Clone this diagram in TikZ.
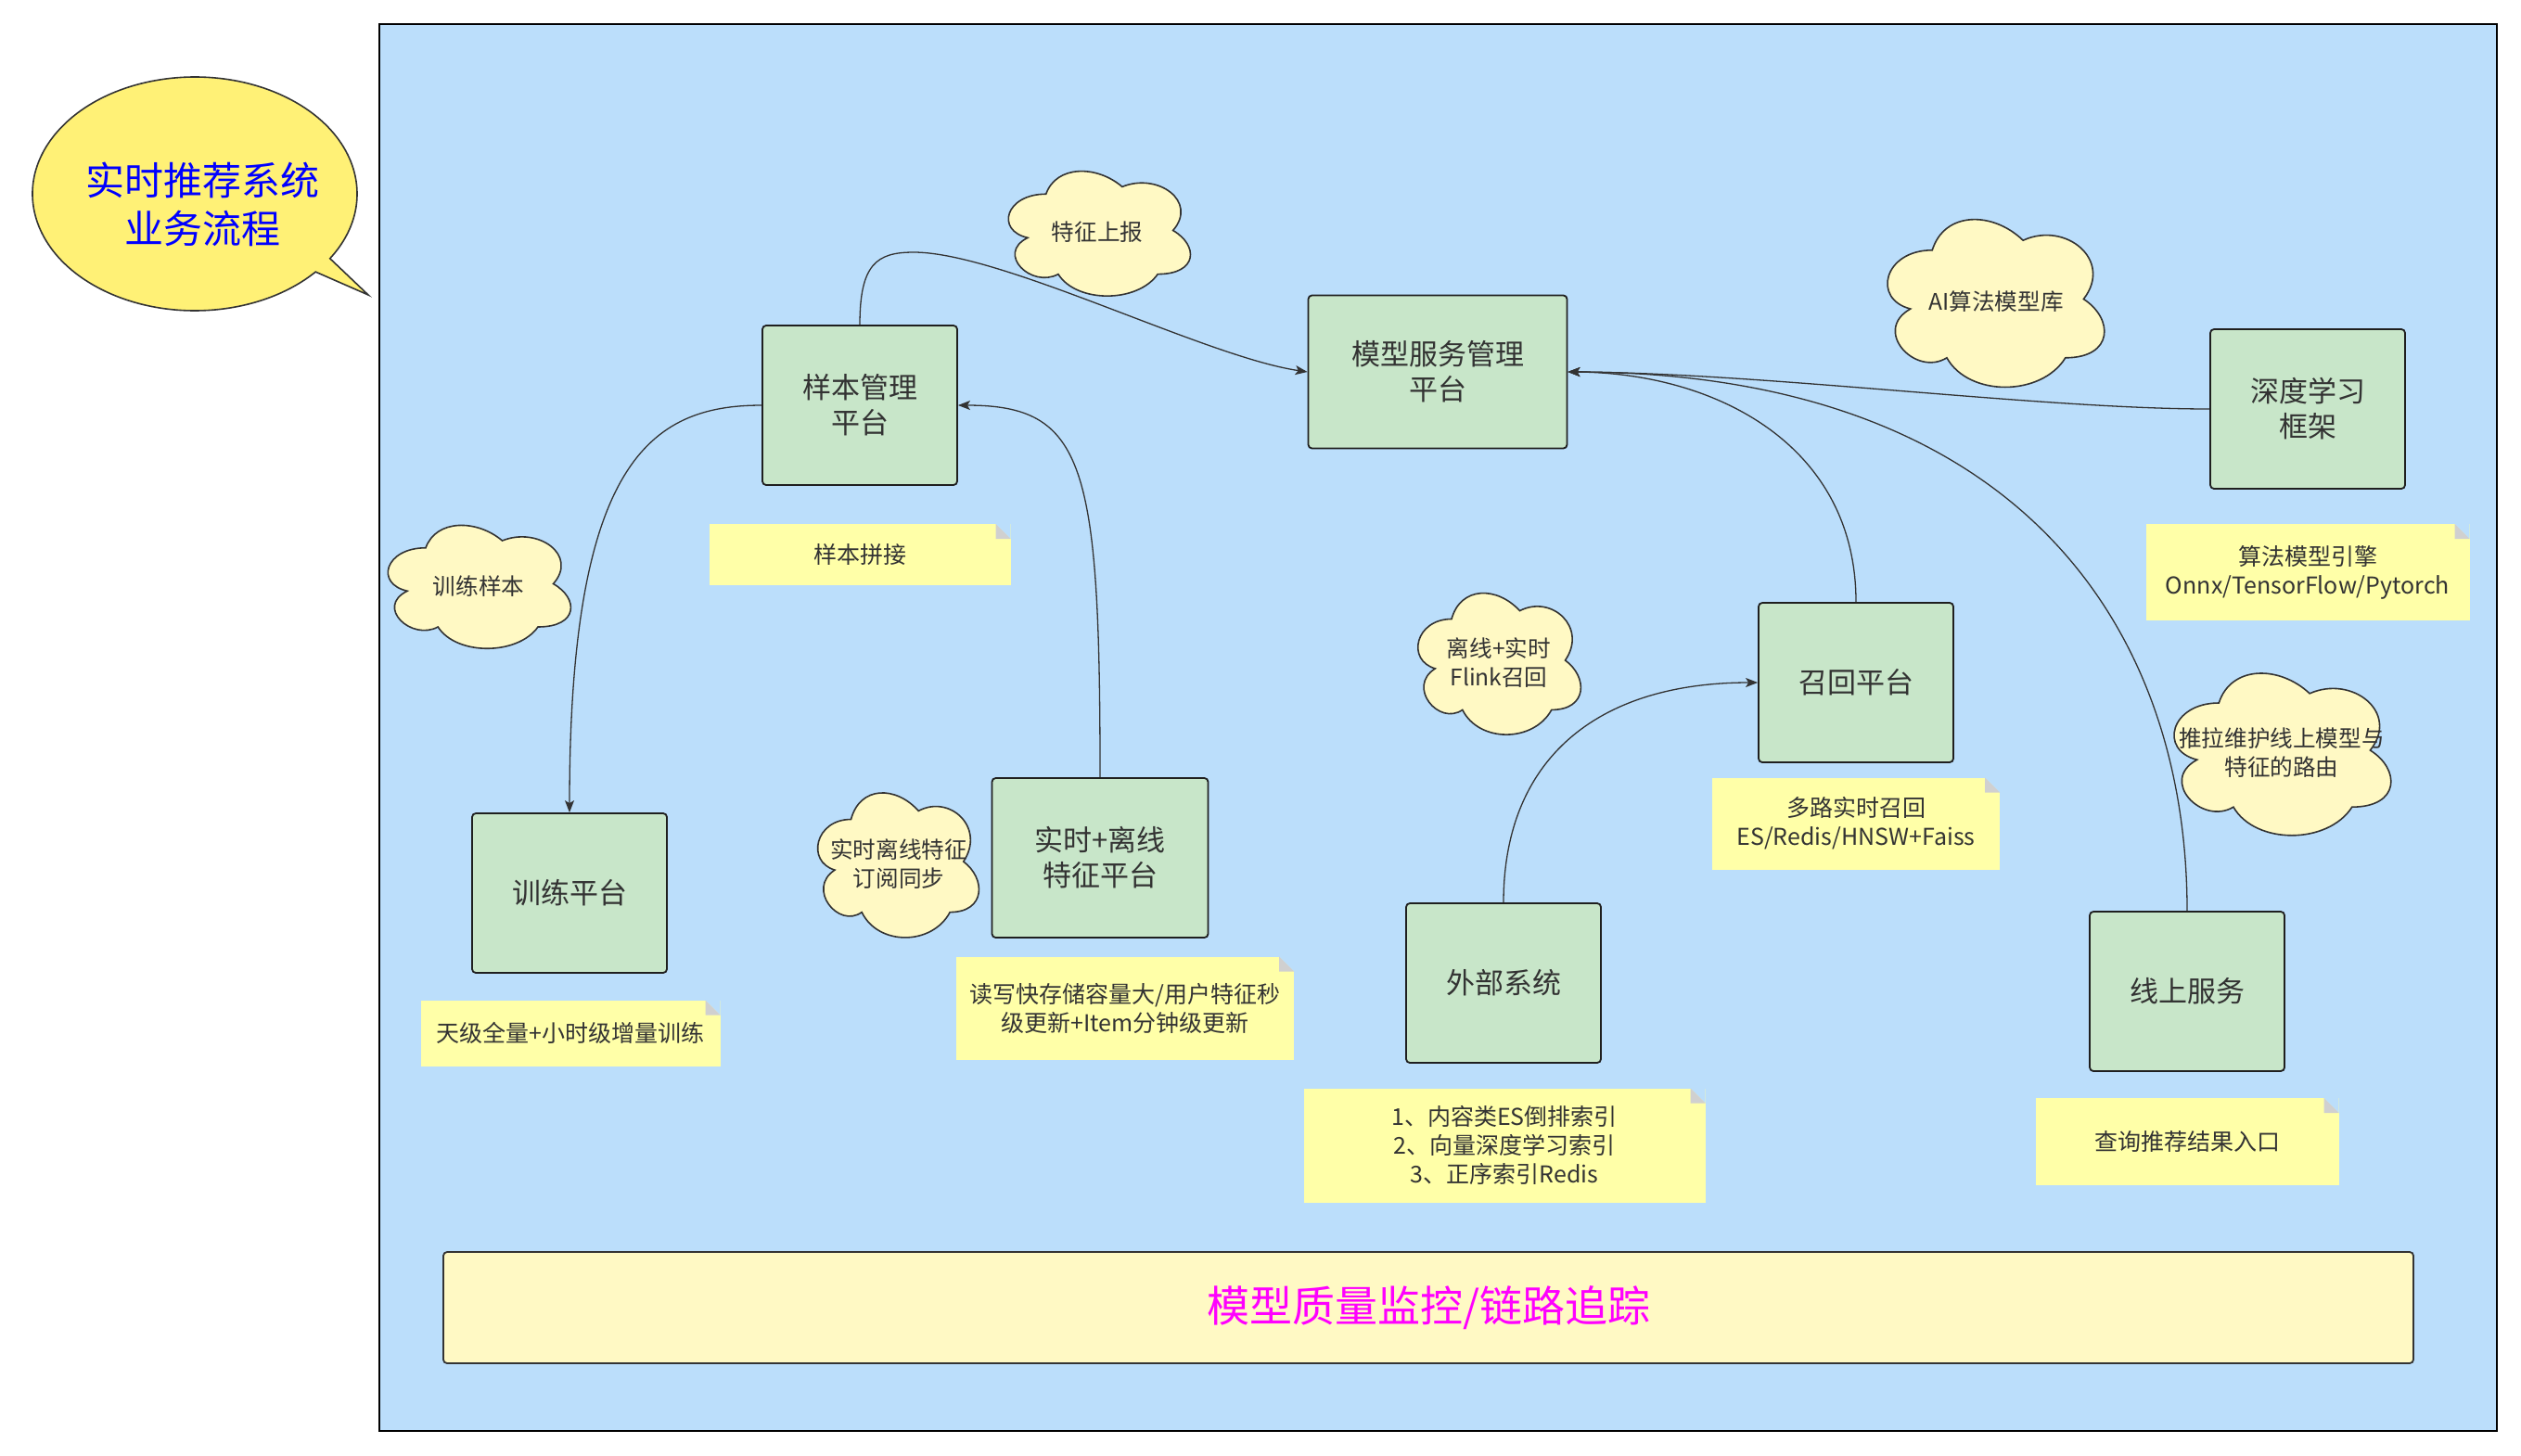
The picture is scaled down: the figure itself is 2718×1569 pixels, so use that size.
\documentclass[tikz,border=0pt]{standalone}
\usepackage{fontspec}
\setmainfont{Noto Sans CJK SC}
\usetikzlibrary{arrows.meta,calc}

\definecolor{bgblue}{HTML}{BBDEFB}
\definecolor{boxgreen}{HTML}{C8E6C9}
\definecolor{cloudy}{HTML}{FFF9C4}
\definecolor{notey}{HTML}{FFFFA8}
\definecolor{foldgray}{HTML}{D0D0D0}
\definecolor{bubbley}{HTML}{FFF176}
\definecolor{txt}{HTML}{333333}
\definecolor{edgec}{HTML}{333333}
\definecolor{titleblue}{HTML}{0000FF}
\definecolor{magentac}{HTML}{FF00FF}

\newcommand\drawcloud[4]{%
  \draw[cloudline, shift={(#1,#2)}, xscale=#3, yscale=#4]
    (0.25,0.25) .. controls (0.05,0.25) and (0,0.5) .. (0.16,0.55)
    .. controls (0,0.66) and (0.18,0.9) .. (0.31,0.8)
    .. controls (0.4,1) and (0.7,1) .. (0.8,0.8)
    .. controls (1,0.8) and (1,0.6) .. (0.875,0.5)
    .. controls (1,0.3) and (0.8,0.1) .. (0.625,0.2)
    .. controls (0.5,0.05) and (0.3,0.05) .. (0.25,0.25) -- cycle;
}

\begin{document}
\begin{tikzpicture}[x=0.5pt,y=-0.5pt,
  box/.style={rectangle, rounded corners=2pt, draw=black!88, fill=boxgreen,
    line width=0.9pt, minimum width=105pt, minimum height=86pt, text=txt,
    align=center, font=\fontsize{15.5}{19}\selectfont, inner sep=2pt},
  note/.style={rectangle, inner sep=0pt, fill=notey, text=txt, align=center,
    font=\fontsize{12.5}{15.5}\selectfont,
    path picture={
      \fill[bgblue] ([xshift=-8pt]path picture bounding box.north east) --
        (path picture bounding box.north east) --
        ([yshift=-8pt]path picture bounding box.north east) -- cycle;
      \fill[foldgray] ([xshift=-8pt]path picture bounding box.north east) --
        ([xshift=-8pt,yshift=-8pt]path picture bounding box.north east) --
        ([yshift=-8pt]path picture bounding box.north east) -- cycle;
    }},
  cloudline/.style={draw=edgec, fill=cloudy, line width=0.8pt},
  cloudtext/.style={text=txt, align=center, font=\fontsize{12.3}{15.5}\selectfont, inner sep=0pt},
  conn/.style={draw=edgec, line width=0.65pt, -{Stealth[length=6.5pt,width=5pt,inset=1.5pt]}},
  banner/.style={rectangle, rounded corners=2pt, draw=edgec, fill=cloudy, line width=0.9pt,
    minimum width=1062pt, minimum height=60pt, text=magentac, font=\fontsize{23}{28}\selectfont},
  titletext/.style={text=titleblue, align=center, font=\fontsize{21}{26}\selectfont, inner sep=0pt}
]
\useasboundingbox (0,0) rectangle (2718,1569);

% background panel
\draw[fill=bgblue, draw=black, line width=0.6pt] (409,26) rectangle (2692,1543);

% speech bubble
\draw[fill=bubbley, draw=edgec, line width=0.8pt]
  (397,318) -- ($(210,209)+(33.6:175 and 126)$)
  arc[start angle=33.6, end angle=-318.1, x radius=175, y radius=126] -- cycle;
\node[titletext] (title) at (218,220) {实时推荐系统\\业务流程};

% boxes
\node[box] (sm) at (927,437) {样本管理\\平台};
\node[box, minimum width=139.5pt, minimum height=82.5pt] (ms) at (1550,401) {模型服务管理\\平台};
\node[box] (dl) at (2488,441) {深度学习\\框架};
\node[box] (tp) at (614,963) {训练平台};
\node[box, minimum width=116.5pt] (rf) at (1186,925) {实时+离线\\特征平台};
\node[box] (ext) at (1621,1060) {外部系统};
\node[box] (rc) at (2001,736) {召回平台};
\node[box] (ol) at (2358,1069) {线上服务};

% notes
\node[note, minimum width=162.5pt, minimum height=33pt] (n1) at (927,598) {样本拼接};
\node[note, minimum width=161.5pt, minimum height=35.5pt] (n2) at (615,1114) {天级全量+小时级增量训练};
\node[note, minimum width=182pt, minimum height=55.5pt] (n3) at (1213,1087) {读写快存储容量大/用户特征秒\\级更新+Item分钟级更新};
\node[note, minimum width=216.5pt, minimum height=61.5pt] (n4) at (1622,1235) {1、内容类ES倒排索引\\2、向量深度学习索引\\3、正序索引Redis};
\node[note, minimum width=155pt, minimum height=49.5pt] (n5) at (2001,888) {多路实时召回\\ES/Redis/HNSW+Faiss};
\node[note, minimum width=174.5pt, minimum height=52pt] (n6) at (2488,617) {算法模型引擎\\Onnx/TensorFlow/Pytorch};
\node[note, minimum width=163.5pt, minimum height=47pt] (n7) at (2358,1231) {查询推荐结果入口};

% clouds
\drawcloud{1073}{170}{219}{157}
\node[cloudtext] (c1) at (1183,250) {特征上报};
\drawcloud{2018}{217}{261}{211}
\node[cloudtext] (c2) at (2152,325) {AI算法模型库};
\drawcloud{404}{552}{220}{155}
\node[cloudtext] (c3) at (516,632) {训练样本};
\drawcloud{1516}{623}{196}{178}
\node[cloudtext] (c4) at (1616,715) {离线+实时\\Flink召回};
\drawcloud{869}{838}{194}{182}
\node[cloudtext] (c5) at (969,932) {实时离线特征\\订阅同步};
\drawcloud{2327}{707}{261}{204}
\node[cloudtext] (c6) at (2460,812) {推拉维护线上模型与\\特征的路由};

% banner
\node[banner] (mon) at (1540,1410) {模型质量监控/链路追踪};

% connectors
\draw[conn] (sm.north) .. controls (927,285) and (945,272) .. (985,272)
  .. controls (1080,272) and (1300,385) .. (ms.west);
\draw[conn] (sm.west) .. controls (700,437) and (614,500) .. (tp.north);
\draw[conn] (rf.north) .. controls (1186,500) and (1170,437) .. (sm.east);
\draw[conn] (ext.north) .. controls (1621,820) and (1720,736) .. (rc.west);
\draw[conn] (rc.north) .. controls (2001,480) and (1850,402) .. (ms.east);
\draw[conn] (ol.north) .. controls (2358,680) and (2180,402) .. (ms.east);
\draw[conn] (dl.west) .. controls (2200,441) and (1900,402) .. (ms.east);
\end{tikzpicture}
\end{document}
